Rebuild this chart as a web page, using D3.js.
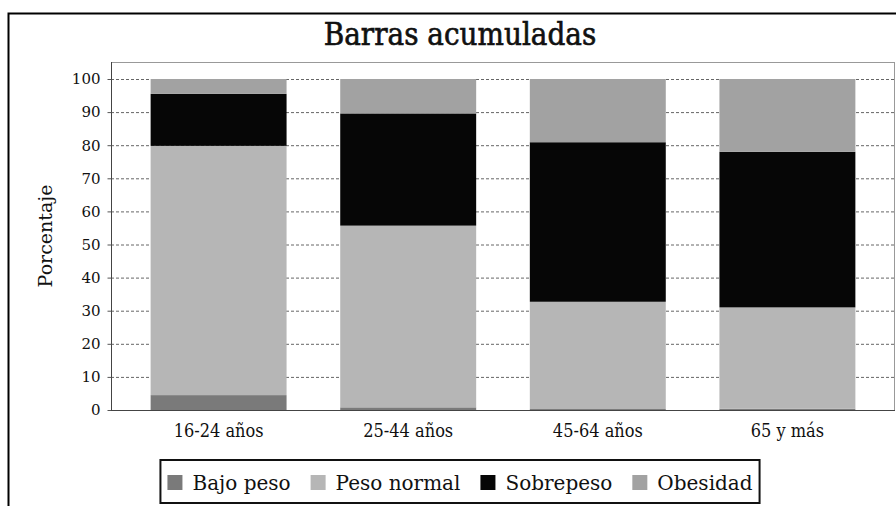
<!DOCTYPE html>
<html>
<head>
<meta charset="utf-8">
<script src="https://cdnjs.cloudflare.com/ajax/libs/d3/7.8.5/d3.min.js"></script>
<style>
  body { margin: 0; background: #fff; }
  svg { display: block; }
</style>
</head>
<body>
<div id="chart"></div>
<script>
var categorias = ['16-24 años', '25-44 años', '45-64 años', '65 y más'];
var series = ['Bajo peso', 'Peso normal', 'Sobrepeso', 'Obesidad'];
var bajoPeso   = [4.5, 0.8, 0.3, 0.4];
var pesoNormal = [75.3, 54.9, 32.4, 30.6];
var sobrepeso  = [15.7, 33.9, 48.2, 47.0];
var obesidad   = [4.5, 10.4, 19.1, 22.0];
var yTicks = [0, 10, 20, 30, 40, 50, 60, 70, 80, 90, 100];

var colores = ['#7a7a7a', '#b6b6b6', '#060606', '#a2a2a2'];

var serif = "'DejaVu Serif', serif";
var serifCond = "'DejaVu Serif Condensed', 'DejaVu Serif', serif";

var width = 896, height = 506;
var plot = {left: 111, right: 895, top: 62, bottom: 410};

var svg = d3.select('#chart')
  .append('svg')
    .attr('width', width)
    .attr('height', height);

// marco exterior
svg.append('rect')
  .attr('x', 8.5).attr('y', 13.5)
  .attr('width', 920).attr('height', 520)
  .attr('fill', '#fff')
  .attr('stroke', '#000')
  .attr('stroke-width', 2);

var tabla = categorias.map(function(c, i) {
  return {cat: c, 'Bajo peso': bajoPeso[i], 'Peso normal': pesoNormal[i],
          'Sobrepeso': sobrepeso[i], 'Obesidad': obesidad[i]};
});
var stack = d3.stack().keys(series)(tabla);

var x = d3.scaleBand()
  .domain(categorias)
  .range([plot.left, plot.right])
  .paddingInner(0.283)
  .paddingOuter(0.209);

var y = d3.scaleLinear()
  .domain([0, 100])
  .range([plot.bottom, 79]);

var color = d3.scaleOrdinal().domain(series).range(colores);

// fondo y marco del area de trazado
svg.append('rect')
  .attr('x', plot.left + 0.5).attr('y', plot.top + 0.5)
  .attr('width', plot.right - plot.left - 1).attr('height', plot.bottom - plot.top)
  .attr('fill', '#fff')
  .attr('stroke', '#999');

// rejilla
svg.append('g')
  .attr('transform', 'translate(' + plot.left + ',0)')
  .call(d3.axisLeft(y)
    .tickValues(yTicks)
    .tickSize(-(plot.right - plot.left))
    .tickFormat(''))
  .call(function(g) {
    g.select('.domain').remove();
    g.selectAll('line')
      .attr('stroke', '#666')
      .attr('stroke-dasharray', '3,2');
  });

// barras
svg.append('g')
  .selectAll('g')
  .data(stack)
  .enter().append('g')
    .attr('fill', function(d) { return color(d.key); })
  .selectAll('rect')
  .data(function(d) { return d; })
  .enter().append('rect')
    .attr('x', function(d) { return x(d.data.cat); })
    .attr('y', function(d) { return y(d[1]); })
    .attr('width', x.bandwidth())
    .attr('height', function(d) { return y(d[0]) - y(d[1]); });

// eje y
svg.append('g')
  .attr('transform', 'translate(' + (plot.left + 0.5) + ',0)')
  .call(d3.axisLeft(y).tickValues(yTicks).tickSize(4).tickPadding(7))
  .call(function(g) {
    g.select('.domain').attr('d', 'M0,' + plot.top + 'V' + plot.bottom).attr('stroke', '#444');
    g.selectAll('line').attr('stroke', '#555');
    g.selectAll('text')
      .style('font-family', serif)
      .style('font-size', '15px')
      .attr('fill', '#111');
  });

// eje x
svg.append('g')
  .attr('transform', 'translate(0,' + (plot.bottom + 0.5) + ')')
  .call(d3.axisBottom(x).tickSize(0).tickPadding(14))
  .call(function(g) {
    g.select('.domain').attr('d', 'M' + plot.left + ',0H' + plot.right).attr('stroke', '#444');
    g.selectAll('text')
      .style('font-family', serifCond)
      .style('font-stretch', 'condensed')
      .style('font-size', '18px')
      .attr('fill', '#111');
  });

// titulo
svg.append('text')
  .attr('x', 460).attr('y', 45)
  .attr('text-anchor', 'middle')
  .style('font-family', serifCond)
  .style('font-stretch', 'condensed')
  .style('font-size', '31px')
  .attr('stroke', '#111')
  .attr('stroke-width', 0.6)
  .attr('fill', '#111')
  .text('Barras acumuladas');

// etiqueta eje y
svg.append('text')
  .attr('transform', 'translate(52,' + ((plot.top + plot.bottom) / 2) + ') rotate(-90)')
  .attr('text-anchor', 'middle')
  .style('font-family', serif)
  .style('font-size', '19px')
  .attr('fill', '#111')
  .text('Porcentaje');

// leyenda
var leg = svg.append('g');
var box = leg.append('rect')
  .attr('fill', '#fff')
  .attr('stroke', '#111')
  .attr('stroke-width', 2);
var items = leg.append('g');
var cx = 0;
series.forEach(function(s, i) {
  items.append('rect')
    .attr('x', cx).attr('y', 475)
    .attr('width', 15).attr('height', 15)
    .attr('fill', color(s));
  var t = items.append('text')
    .attr('x', cx + 25).attr('y', 490)
    .style('font-family', serif)
    .style('font-size', '20px')
    .attr('fill', '#111')
    .text(s);
  cx += 25 + t.node().getComputedTextLength() + 20;
});
var legW = cx - 20;
var legX = 460 - legW / 2;
items.attr('transform', 'translate(' + legX + ',0)');
box.attr('x', legX - 7).attr('y', 460)
  .attr('width', legW + 14).attr('height', 43);
</script>
</body>
</html>
